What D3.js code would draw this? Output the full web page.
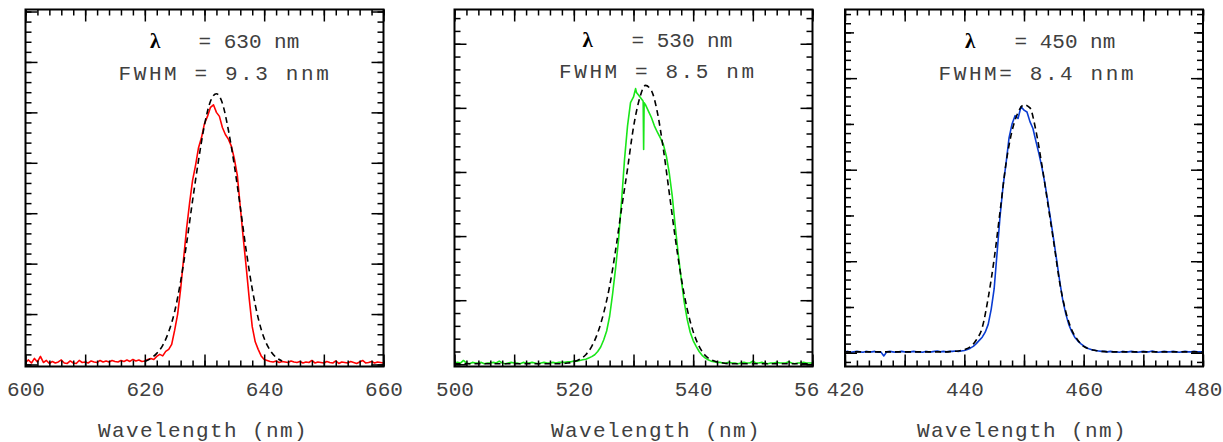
<!DOCTYPE html>
<html><head><meta charset="utf-8">
<script src="https://cdn.jsdelivr.net/npm/d3@7"></script>
<style>body{margin:0;background:#fff} svg{display:block}</style>
</head><body>
<svg id="c" width="1223" height="442"></svg>
<script>
// ---------------- DATA ----------------
const xTitle = "Wavelength (nm)";
const lambdaLabels = ["= 630 nm", "= 530 nm", "= 450 nm"];
const fwhmLabels = ["FWHM = 9.3 nnm", "FWHM = 8.5 nm", "FWHM= 8.4 nnm"];
const xDomains = [[600, 660], [500, 560], [420, 480]];
const xTickValues = [[600, 620, 640, 660], [500, 520, 540, 560], [420, 440, 460, 480]];
// visible tick label text (the last label of the middle panel is cut off in the original)
const xTickTexts = [["600", "620", "640", "660"], ["500", "520", "540", "56"], ["420", "440", "460", "480"]];

// measured spectra: start wavelength, step 0.5 nm
const redStart = 600, greenStart = 500, blueStart = 420, specStep = 0.5;
const redValues = [
 0.04,0.09,0.03,0.12,0.05,0.16,0.04,0.08,0.02,0.06,0.03,0.05,0.09,0.03,0.02,0.07,0.03,0.02,0.08,0.04,
 0.05,0.03,0.07,0.05,0.04,0.08,0.05,0.07,0.05,0.08,0.06,0.05,0.08,0.06,0.09,0.06,0.10,0.07,0.09,0.06,
 0.07,0.10,0.12,0.10,0.16,0.20,0.17,0.26,0.30,0.40,0.68,1.00,1.50,2.10,2.70,3.20,3.65,3.95,4.30,4.50,
 4.78,4.92,5.10,5.15,5.00,4.92,4.70,4.56,4.47,4.33,4.08,3.75,3.12,2.50,1.92,1.30,0.75,0.45,0.30,0.17,
 0.10,0.08,0.06,0.05,0.07,0.04,0.06,0.05,0.04,0.07,0.05,0.04,0.06,0.03,0.05,0.04,0.08,0.03,0.05,0.04,
 0.03,0.06,0.04,0.03,0.07,0.02,0.05,0.04,0.03,0.06,0.04,0.02,0.05,0.08,0.03,0.04,0.06,0.03,0.05,0.04,0.03
];
const greenValues = [
 0.02,0.03,0.02,0.06,0.02,0.01,0.03,0.02,0.02,0.03,0.01,0.02,0.02,0.03,0.02,0.05,0.02,0.01,0.02,0.03,
 0.02,0.02,0.01,0.03,0.02,0.02,0.03,0.02,0.01,0.02,0.03,0.02,0.02,0.03,0.02,0.03,
 0.03,0.03,0.04,0.04,0.05,0.05,0.06,0.07,0.08,0.10,0.12,0.15,0.20,0.27,0.38,0.52,0.75,1.10,1.50,1.95,
 2.55,3.20,3.72,4.08,4.17,4.24,4.18,4.12,4.05,3.95,3.85,3.72,3.62,3.53,3.43,3.25,2.98,2.62,2.15,1.72,
 1.33,0.97,0.70,0.50,
 0.37,0.28,0.20,0.14,0.10,0.07,0.05,0.04,0.03,0.03,0.02,0.02,0.03,0.02,0.02,0.01,0.02,0.03,0.02,0.02,
 0.05,0.02,0.02,0.03,0.02,0.01,0.02,0.02,0.03,0.02,0.02,0.02,0.04,0.02,0.01,0.02,0.02,0.03,0.02,0.02,0.02
];
// narrow features of the green spectrum (wavelength, intensity)
const greenSpikeWl = [530.35, 531.62, 531.7, 531.78];
const greenSpikeI  = [4.30, 4.10, 3.35, 4.08];
const blueValues = [
 0.02,0.03,0.01,0.02,0.03,0.02,0.01,0.03,0.02,0.02,0.03,0.01,0.02,-0.07,0.02,0.03,0.02,0.01,0.02,0.03,
 0.02,0.01,0.02,0.03,0.02,0.02,0.01,0.03,0.02,0.02,0.03,0.04,0.02,0.03,0.02,0.03,0.03,0.04,0.03,0.04,
 0.05,0.07,0.10,0.14,0.20,0.27,0.34,0.45,0.62,0.95,1.40,2.20,3.00,3.65,4.15,4.70,5.00,5.18,5.12,5.38,
 5.30,5.26,5.05,4.90,4.62,4.35,4.05,3.70,3.30,2.88,2.45,2.00,1.55,1.15,0.85,0.62,0.46,0.34,0.26,0.20,
 0.15,0.11,0.08,0.06,0.05,0.04,
 0.03,0.03,0.02,0.03,0.02,0.02,0.01,0.03,0.02,0.02,0.03,0.02,0.01,0.02,0.03,0.02,0.02,0.04,0.02,0.01,
 0.02,0.03,0.02,0.02,0.03,0.02,0.01,0.02,0.03,0.02,0.02,0.03,0.02,0.02,0.02
];

// gaussian fits (dashed), 1 nm step
const redFitStart = 620;
const redFitValues = [0.06,0.12,0.22,0.38,0.65,1.05,1.65,2.40,3.25,4.05,4.75,5.22,5.37,5.18,4.65,3.95,3.12,2.25,1.50,0.92,0.52,0.28,0.14,0.07];
const greenFitStart = 500;
const greenFitValues = [
 0.01,0.01,0.01,0.01,0.01,0.01,0.01,0.01,0.01,0.01,0.01,0.01,0.01,0.01,0.01,0.01,0.01,
 0.01,0.01,0.02,0.04,0.08,0.15,0.28,0.49,0.80,1.22,1.78,2.43,3.05,3.70,4.14,4.35,4.27,3.93,3.36,2.67,1.97,1.35,0.86,0.51,0.28,0.14,0.07,0.04,0.02,
 0.01,0.01,0.01,0.01,0.01,0.01,0.01,0.01,0.01,0.01,0.01,0.01,0.01,0.01,0.01
];
const blueFitStart = 420;
const blueFitValues = [
 0.02,0.02,0.02,0.02,0.02,0.02,0.02,0.02,0.02,0.02,0.02,0.02,0.02,0.02,0.02,0.02,0.02,0.02,
 0.03,0.04,0.07,0.13,0.28,0.55,1.20,2.05,3.10,4.15,4.85,5.25,5.42,5.35,4.85,4.10,3.25,2.40,1.52,0.90,0.50,0.28,0.14,0.08,0.05,0.03,
 0.02,0.02,0.02,0.02,0.02,0.02,0.02,0.02,0.02,0.02,0.02,0.02,0.02,0.02,0.02,0.02,0.02
];

// ---------------- LAYOUT ----------------
const svg = d3.select('#c');
const MONO = "'Liberation Mono','Courier New',monospace";
const TXT = '#404040';
const FS = 21, CHAR = FS * 0.6;

const panels = [
 {x0:25.5, x1:383.5, y0:9.5, y1:366.5, yDom:[-0.04, 7.04], yMed:false, color:'#ff0000',
  spec:[redStart, redValues], fit:[redFitStart, redFitValues], spikes:null,
  lamX:150, eqX:198.5, l1y:48, l2x:118.5, l2y:80, titleX:203},
 {x0:454.5, x1:812.5, y0:9.5, y1:366.5, yDom:[-0.034, 5.534], yMed:false, color:'#19e619',
  spec:[greenStart, greenValues], fit:[greenFitStart, greenFitValues], spikes:[greenSpikeWl, greenSpikeI],
  lamX:582.5, eqX:631.5, l1y:46.7, l2x:559, l2y:78.3, titleX:656},
 {x0:845, x1:1203, y0:9.5, y1:366.5, yDom:[-0.30, 7.50], yMed:true, color:'#0a3cd2',
  spec:[blueStart, blueValues], fit:[blueFitStart, blueFitValues], spikes:null,
  lamX:965, eqX:1014.5, l1y:48.3, l2x:938.5, l2y:80, titleX:1022}
];

const defs = svg.append('defs');

panels.forEach((p, i) => {
  const x = d3.scaleLinear().domain(xDomains[i]).range([p.x0, p.x1]);
  const y = d3.scaleLinear().domain(p.yDom).range([p.y1, p.y0]);

  const root = svg.append('g');
  defs.append('clipPath').attr('id', 'fc' + i).append('rect')
    .attr('x', p.x0).attr('y', p.y0).attr('width', p.x1 - p.x0).attr('height', p.y1 - p.y0);

  // data points
  let specPts = p.spec[1].map((v, k) => [p.spec[0] + k * specStep, v]);
  if (p.spikes) {
    p.spikes[0].forEach((w, k) => specPts.push([w, p.spikes[1][k]]));
    specPts.sort((a, b) => a[0] - b[0]);
  }
  const fitPts = p.fit[1].map((v, k) => [p.fit[0] + k, v]);

  const line = d3.line().x(d => x(d[0])).y(d => y(d[1]));
  const fitLine = d3.line().curve(d3.curveMonotoneX).x(d => x(d[0])).y(d => y(d[1]));

  const plot = root.append('g').attr('clip-path', `url(#fc${i})`);
  plot.append('path').attr('d', line(specPts)).attr('fill', 'none')
    .attr('stroke', p.color).attr('stroke-width', 1.6).attr('stroke-linejoin', 'round');
  plot.append('path').attr('d', fitLine(fitPts)).attr('fill', 'none')
    .attr('stroke', '#000').attr('stroke-width', 1.6).attr('stroke-dasharray', '6,4');

  // ticks
  const xMinor = d3.range(0, 31).map(k => xDomains[i][0] + 2 * k);
  const xMajor = d3.range(0, 7).map(k => xDomains[i][0] + 10 * k);
  const yMinor = d3.range(-5, 40).map(k => +(k * 0.2).toFixed(2)).filter(v => v >= p.yDom[0] && v <= p.yDom[1]);
  const yInts = d3.range(0, 9).filter(v => v <= p.yDom[1]);
  const yLong = p.yMed ? yInts.filter(v => v % 2 === 0) : yInts;
  const yMid = p.yMed ? yInts.filter(v => v % 2 === 1) : [];

  const axG = root.append('g');
  const tick = (axis, tx, ty) => {
    const g = axG.append('g').attr('transform', `translate(${tx},${ty})`).call(axis);
    g.select('.domain').remove();
    g.selectAll('.tick line').attr('stroke', '#000').attr('stroke-width', 1.5);
    g.selectAll('.tick text').remove();
  };
  [[xMinor, 6], [xMajor, 12]].forEach(([vals, len]) => {
    tick(d3.axisBottom(x).tickValues(vals).tickSize(-len), 0, p.y1);
    tick(d3.axisTop(x).tickValues(vals).tickSize(-len), 0, p.y0);
  });
  [[yMinor, 6], [yMid, 9], [yLong, 12]].forEach(([vals, len]) => {
    if (!vals.length) return;
    tick(d3.axisLeft(y).tickValues(vals).tickSize(-len), p.x0, 0);
    tick(d3.axisRight(y).tickValues(vals).tickSize(-len), p.x1, 0);
  });

  // frame
  root.append('rect').attr('x', p.x0).attr('y', p.y0).attr('width', p.x1 - p.x0).attr('height', p.y1 - p.y0)
    .attr('fill', 'none').attr('stroke', '#000').attr('stroke-width', 2);

  // tick labels
  const texts = xTickTexts[i];
  const lab = root.append('g').attr('transform', `translate(0,${p.y1})`)
    .call(d3.axisBottom(x).tickValues(xTickValues[i]).tickSize(0)
      .tickFormat((d, k) => texts[k]));
  lab.select('.domain').remove();
  lab.selectAll('.tick text').attr('y', 29.5).attr('dy', 0)
    .attr('dx', (d, k) => (texts[k].length - 3) / 2 * CHAR)
    .attr('font-family', MONO).attr('font-size', FS).attr('fill', TXT);

  // axis title
  root.append('text').attr('x', p.titleX).attr('y', 437).attr('text-anchor', 'middle')
    .attr('font-family', MONO).attr('font-size', FS).attr('letter-spacing', 1.4)
    .attr('fill', TXT).text(xTitle);

  // annotations
  root.append('text').attr('x', p.lamX).attr('y', p.l1y)
    .attr('font-family', "'Liberation Serif','DejaVu Serif',serif").attr('font-weight', 'bold')
    .attr('font-size', FS).attr('fill', '#000').text('λ');
  root.append('text').attr('x', p.eqX).attr('y', p.l1y)
    .attr('font-family', MONO).attr('font-size', FS).attr('fill', TXT).text(lambdaLabels[i]);
  root.append('text').attr('x', p.l2x).attr('y', p.l2y)
    .attr('font-family', MONO).attr('font-size', FS).attr('letter-spacing', 2.6)
    .attr('fill', TXT).text(fwhmLabels[i]);
});
</script>
</body></html>
